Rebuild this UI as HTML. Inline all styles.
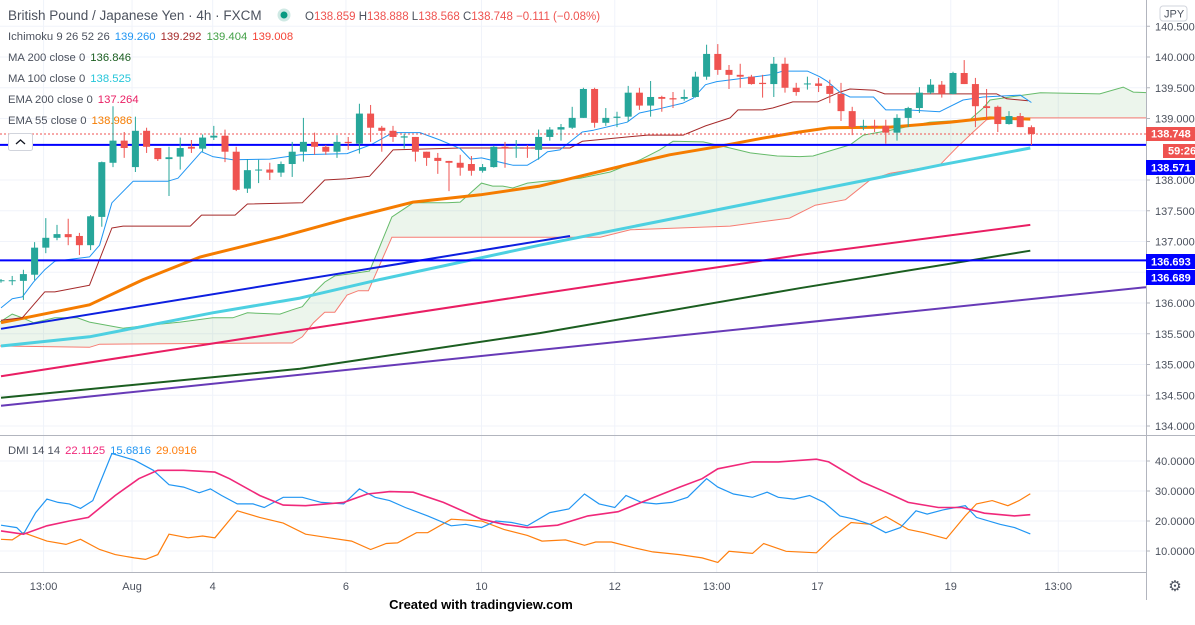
<!DOCTYPE html>
<html><head><meta charset="utf-8"><style>
html,body{margin:0;padding:0;background:#fff;width:1195px;height:625px;overflow:hidden}
svg{display:block;font-family:"Liberation Sans",Arial,sans-serif}
</style></head><body>
<svg id="chart" width="1195" height="625" viewBox="0 0 1195 625" xmlns="http://www.w3.org/2000/svg">
<defs>
<clipPath id="mainClip"><rect x="0" y="0" width="1146" height="434"/></clipPath>
<clipPath id="dmiClip"><rect x="0" y="436" width="1146" height="136"/></clipPath>
</defs>
<g id="grid"></g>
<g id="cloud" clip-path="url(#mainClip)"></g>
<g id="lines" clip-path="url(#mainClip)"></g>
<g id="candles" clip-path="url(#mainClip)"></g>
<g id="dmi" clip-path="url(#dmiClip)"></g>
<g id="axes"></g>
</svg>
<script>
// ---- candle data ----
const opens=[136.36,136.36,136.36,136.46,136.90,137.06,137.12,137.09,136.94,137.40,138.28,138.64,138.21,138.80,138.52,138.34,138.38,138.54,138.51,138.69,138.72,138.46,137.86,138.16,138.17,138.12,138.26,138.46,138.62,138.54,138.46,138.62,138.59,139.08,138.85,138.80,138.69,138.70,138.46,138.36,138.31,138.28,138.26,138.15,138.21,138.54,138.52,138.53,138.49,138.70,138.82,138.85,139.01,139.48,138.93,139.01,139.03,139.42,139.21,139.35,139.33,139.32,139.35,139.68,140.05,139.79,139.71,139.68,139.58,139.56,139.89,139.50,139.56,139.57,139.53,139.40,139.12,138.86,138.88,138.88,138.77,139.01,139.17,139.42,139.55,139.40,139.74,139.56,139.20,139.19,138.91,139.04,138.859];
const highs=[136.39,136.44,136.54,136.99,137.38,137.27,137.37,137.14,137.43,138.30,139.20,138.78,139.03,138.85,138.52,138.54,138.69,138.65,138.74,138.88,138.82,138.54,138.34,138.33,138.28,138.30,138.62,139.01,138.77,138.57,138.73,138.70,139.24,139.22,138.88,138.88,138.75,138.70,138.46,138.44,138.31,138.41,138.39,138.26,138.56,138.62,138.65,138.57,138.82,138.86,138.91,139.19,139.50,139.50,139.17,139.11,139.53,139.50,139.61,139.37,139.43,139.47,139.76,140.20,140.21,139.87,139.89,139.71,139.71,140.00,139.99,139.58,139.68,139.66,139.63,139.58,139.19,138.98,138.98,138.98,139.07,139.19,139.51,139.64,139.61,139.76,139.95,139.66,139.48,139.21,139.12,139.09,138.888];
const lows=[136.33,136.29,136.05,136.37,136.81,137.02,136.94,136.78,136.86,137.24,138.21,138.36,138.13,138.44,138.31,137.74,138.17,138.44,138.46,138.65,138.29,137.82,137.79,137.95,138.00,138.05,138.05,138.30,138.41,138.41,138.36,138.49,138.43,138.62,138.46,138.62,138.51,138.30,138.23,138.10,137.82,138.07,138.07,138.12,138.20,138.20,138.36,138.36,138.33,138.64,138.64,138.83,139.01,138.85,138.88,138.86,138.95,139.14,139.03,139.11,139.17,139.29,139.34,139.63,139.71,139.48,139.50,139.55,139.34,139.35,139.42,139.37,139.47,139.43,139.25,138.96,138.73,138.81,138.78,138.59,138.64,138.86,139.09,139.40,139.34,139.39,139.56,138.86,138.98,138.78,138.90,138.86,138.568];
const closes=[136.37,136.37,136.47,136.90,137.06,137.12,137.07,136.94,137.41,138.29,138.64,138.52,138.80,138.54,138.34,138.37,138.52,138.51,138.69,138.72,138.46,137.84,138.16,138.17,138.12,138.26,138.46,138.62,138.54,138.46,138.62,138.60,139.08,138.85,138.80,138.70,138.71,138.46,138.36,138.31,138.28,138.20,138.15,138.21,138.54,138.51,138.53,138.51,138.70,138.82,138.86,139.01,139.48,138.93,139.01,139.03,139.42,139.21,139.35,139.32,139.31,139.35,139.68,140.05,139.79,139.71,139.68,139.56,139.56,139.89,139.50,139.43,139.57,139.53,139.40,139.12,138.86,138.88,138.86,138.77,139.01,139.17,139.42,139.55,139.40,139.74,139.56,139.20,139.17,138.91,139.04,138.86,138.748];
// ---- indicator lines [barIndex, price] ----
const tenkanPts=[[0,135.92],[1,136.07],[1.9,136.10],[2.9,136.34],[3.9,136.54],[4.8,136.68],[7.9,136.75],[8.8,136.94],[9.9,137.63],[11.8,137.98],[14.9,137.98],[15.8,138.03],[17.9,138.46],[18.9,138.38],[20.7,138.33],[24,138.34],[26.7,138.41],[30.9,138.43],[33,138.57],[35,138.77],[37.4,138.77],[39.2,138.65],[41,138.51],[41.9,138.34],[42.9,138.36],[45.7,138.24],[47,138.24],[48.1,138.36],[48.8,138.46],[49.9,138.49],[51.9,138.78],[52.9,138.81],[55.9,138.94],[57,139.09],[58.8,139.16],[60.9,139.25],[61.8,139.33],[62.9,139.55],[63.9,139.60],[68.7,139.71],[69.8,139.77],[72,139.77],[73.1,139.68],[73.8,139.60],[74.9,139.43],[75.8,139.35],[77.9,139.35],[79,139.14],[80.9,139.14],[83.8,139.11],[85.9,139.30],[87.7,139.35],[91,139.38],[92,139.26]];
const kijunPts=[[0,135.72],[1.9,135.76],[3.9,136.18],[4.8,136.18],[7.9,136.29],[9.9,137.22],[10.9,137.25],[16.9,137.25],[17.9,137.43],[20.9,137.43],[22,137.61],[26.9,137.63],[28.9,138.00],[30.9,138.02],[32.9,138.06],[33.8,138.24],[35,138.49],[41,138.52],[50.8,138.52],[51.9,138.63],[57.7,138.73],[60.9,138.73],[62.9,138.88],[65.1,139.01],[65.8,139.14],[68,139.14],[68.9,139.17],[70.7,139.27],[72.9,139.27],[74.9,139.43],[75.8,139.48],[78,139.46],[78.9,139.40],[88.9,139.40],[89.8,139.32],[91.7,139.29]];
const spanAPts=[[-0.2,135.68],[1,135.82],[1.9,135.76],[2.9,135.68],[4.8,135.76],[6.8,135.76],[7.9,135.69],[10.9,135.59],[13.3,135.64],[16,135.69],[18.9,135.76],[20.7,135.76],[22,135.84],[24.9,135.82],[26,135.89],[26.9,135.94],[27.9,136.16],[28.9,136.34],[29.8,136.44],[31.8,136.49],[32.9,136.52],[33.8,136.91],[34.9,137.40],[36.8,137.63],[39.8,137.63],[41,137.64],[42.9,137.95],[43.9,137.90],[44.8,137.90],[45.7,137.87],[47,137.95],[48.1,137.97],[51.7,138.03],[54.4,138.13],[57.1,138.33],[58.8,138.49],[60,138.63],[62.7,138.62],[65.1,138.52],[66.9,138.44],[69.3,138.39],[71.3,138.38],[72.5,138.39],[74.3,138.49],[75.8,138.57],[77,138.73],[79.4,138.81],[82.9,138.94],[86.5,138.98],[87.7,139.17],[88.3,139.30],[90.1,139.35],[92.8,139.42],[98.1,139.40],[100.2,139.51],[101.1,139.43],[102.4,139.42]];
const spanBPts=[[-0.2,135.30],[7.9,135.28],[8.8,135.33],[24.9,135.35],[26,135.35],[26.9,135.45],[27.9,135.68],[28.9,135.85],[29.8,135.85],[30.9,136.13],[31.9,136.20],[32.8,136.20],[34.9,137.07],[53.5,137.07],[56.2,137.19],[65.1,137.25],[70.4,137.38],[72.7,137.59],[75.4,137.68],[77.6,138.00],[79.4,138.11],[83.8,138.24],[85.4,138.54],[86.8,138.78],[88,138.98],[89.2,139.01],[102.4,139.01]];
const ema55Pts=[[0,135.68],[7.9,135.97],[12.7,136.38],[17.8,136.75],[24.9,137.07],[30.9,137.37],[36.8,137.64],[42.8,137.76],[48.1,137.90],[56.2,138.26],[59.7,138.41],[63.9,138.54],[68,138.68],[71.3,138.78],[74,138.85],[79.4,138.86],[84.7,138.94],[88.3,139.01],[91.9,138.99]];
const ma100Pts=[[0,135.30],[7.9,135.45],[18.9,135.84],[26.7,136.08],[33.8,136.38],[48.1,136.94],[77.3,138.00],[83.8,138.24],[91.9,138.52]];
const ema200Pts=[[0,134.81],[24.9,135.51],[48.1,136.15],[71.3,136.78],[91.9,137.27]];
const ma200Pts=[[0,134.46],[26.7,134.93],[31.8,135.07],[48.1,135.51],[71.3,136.24],[91.9,136.85]];
const purpleTrend=[[0,134.33],[102.4,136.26]];
const blueTrend=[[0,135.58],[50.8,137.09]];
const hLevels=[138.571,136.693];
const lastPrice=138.748;
// ---- DMI [barIndex, value] ----
const plusDI=[[0,18.6],[1.4,17.8],[2,15.6],[3.1,22.8],[4.1,27.3],[5.1,26.2],[6.1,25.7],[7.1,24.2],[8.2,26.8],[9.9,42.5],[10.9,41.4],[11.9,40.3],[13.6,36.9],[15,32.1],[16.3,31.3],[17.7,29.4],[18.7,30.7],[19.7,28.5],[21.1,25.7],[22.5,25.7],[23.5,24.5],[25.2,27.9],[26.9,27.9],[28.6,26.2],[30.6,25.7],[32,30.7],[33.4,27.9],[34.7,26.8],[36.1,24.5],[38.1,21.7],[40.2,18.4],[41.5,18.9],[42.9,17.8],[44.2,20],[45.6,19.5],[47,18.4],[49,22.8],[50.7,24],[52.1,29],[53.4,25.7],[54.8,24.5],[55.8,28.5],[57.2,26.2],[58.5,25.7],[59.9,26.2],[61.3,27.9],[63,34.1],[64,31.3],[65.4,29],[67.1,27.9],[68.4,29.6],[69.4,27.9],[70.8,27.3],[72.2,28.5],[73.5,26.2],[74.9,21.7],[76.2,20.6],[77.6,18.9],[79,16.1],[80.3,17.8],[81.7,23.4],[82.7,22.3],[84.1,23.7],[86.1,25.1],[87.1,21.2],[89.2,18.9],[90.5,17.8],[91.9,15.7]];
const adx=[[0,16.7],[2,15.6],[4.1,18.4],[6.1,20],[7.8,21.2],[10.2,28.5],[12.3,34.1],[14,36.9],[16.3,36.9],[19.1,36.3],[20.4,34.1],[23.1,28.5],[25.2,25.3],[27.2,25.1],[30.6,26.2],[32.7,29],[34.7,29.8],[36.8,29.6],[39.5,26.2],[42.9,20.6],[44.9,18.9],[47,17.8],[49.7,18.6],[52.4,21.7],[55.1,23.1],[57.9,27.3],[60.6,31.3],[62.6,34.1],[64,37.4],[67.1,39.7],[69.4,39.7],[72.8,40.6],[73.9,39.7],[76.9,33],[79,29.6],[81,26.2],[83.7,24.5],[85.8,24.5],[87.8,22.6],[90.5,21.7],[91.9,22.1]];
const minusDI=[[0,13.9],[1,13.7],[2,16.1],[4.1,13.3],[5.8,12.2],[7.1,13.9],[8.8,10.5],[10.2,8.8],[11.9,7.7],[12.9,7.2],[14,8.8],[15,15.6],[16.7,14.4],[18,15],[19.1,14.4],[21.1,23.4],[23.1,21.2],[25.2,19.3],[27.2,15.6],[29.3,14.4],[31.3,13.3],[33,10.5],[34.4,12.5],[35.4,12.7],[37.1,16.1],[38.1,16.1],[40.2,20.6],[42.9,20],[44.9,17.2],[47,15.2],[48.3,13.3],[50.4,13.7],[52.1,11.9],[53.1,13],[54.5,13],[56.5,11.1],[58.2,9.7],[60.6,8.8],[62.6,7.7],[64,6.2],[65,9.9],[67.1,9.2],[68.1,12.5],[70.1,9.9],[72.8,9.4],[74.2,14.4],[75.9,19.5],[77.6,18.9],[79,21.5],[81,17.2],[82.4,16.1],[84.4,14.1],[86.1,21.7],[87.1,25.7],[88.5,26.8],[89.9,25.1],[90.9,26.8],[91.9,29.1]];
// ---- axis labels ----
const priceTicks=[140.5,140.0,139.5,139.0,138.0,137.5,137.0,136.0,135.5,135.0,134.5,134.0];
const dmiTicks=[40,30,20,10];
const timeLabels=["13:00","Aug","4","6","10","12","13:00","17","19","13:00"];
const timeIdx=[3.8,11.7,18.9,30.8,42.9,54.8,63.9,72.9,84.8,94.4];

const NS="http://www.w3.org/2000/svg";
const xI=i=>1+i*11.2;
const yP=p=>57+(140-p)*61.5;
const yD=v=>581-3*v;
function mk(tag,attrs,parent,text){const e=document.createElementNS(NS,tag);for(const k in attrs)e.setAttribute(k,attrs[k]);if(text!==undefined)e.textContent=text;parent.appendChild(e);return e;}
const G=id=>document.getElementById(id);

// grid
const grid=G('grid');
priceTicks.concat([136.5]).forEach(p=>{const l=mk('line',{x1:0,x2:1146,y1:yP(p),y2:yP(p),stroke:'#f0f3fa','stroke-width':1},grid);});
dmiTicks.forEach(v=>{const l=mk('line',{x1:0,x2:1146,y1:yD(v),y2:yD(v),stroke:'#f0f3fa'},grid);});
timeIdx.forEach(i=>{const l=mk('line',{x1:xI(i),x2:xI(i),y1:0,y2:572,stroke:'#f0f3fa'},grid);});

function path(pts,fx,fy){return pts.map((q,k)=>(k?'L':'M')+fx(q[0]).toFixed(1)+','+fy(q[1]).toFixed(1)).join('');}
// cloud
const cloud=G('cloud');
const poly=spanAPts.map(q=>xI(q[0])+','+yP(q[1])).concat(spanBPts.slice().reverse().map(q=>xI(q[0])+','+yP(q[1]))).join(' ');
const cf=mk('polygon',{points:poly,fill:'rgba(67,160,71,0.10)'},cloud);

const sa=mk('path',{d:path(spanAPts,xI,yP),fill:'none',stroke:'#66bb6a','stroke-width':1},cloud);

const sb=mk('path',{d:path(spanBPts,xI,yP),fill:'none',stroke:'#f77c72','stroke-width':1},cloud);


// lines
const lines=G('lines');
function addLine(pts,color,w,name){const e=mk('path',{d:path(pts,xI,yP),fill:'none',stroke:color,'stroke-width':w,'stroke-linejoin':'round'},lines);}
addLine(purpleTrend,'#673ab7',2,'purple-trendline');
addLine(ma200Pts,'#1b5e20',2,'ma200-line');
addLine(ema200Pts,'#e91e63',2,'ema200-line');
addLine(blueTrend,'#0d1fe0',2,'blue-trendline');
addLine(ma100Pts,'#4dd0e1',3,'ma100-line');
addLine(ema55Pts,'#f57c00',3,'ema55-line');
addLine(kijunPts,'#a52a2a',1,'kijun-line');
addLine(tenkanPts,'#2196f3',1,'tenkan-line');
hLevels.forEach(p=>{const e=mk('line',{x1:0,x2:1146,y1:yP(p),y2:yP(p),stroke:'#0000ff','stroke-width':2},lines);});
const lp=mk('line',{x1:0,x2:1146,y1:yP(lastPrice),y2:yP(lastPrice),stroke:'#ef5350','stroke-width':1,'stroke-dasharray':'2,2'},lines);


// candles
const cg=G('candles');
opens.forEach((o,i)=>{const c=closes[i],up=c>=o,col=up?'#26a69a':'#ef5350',x=xI(i);
 const g=mk('g',{},cg);
 mk('line',{x1:x,x2:x,y1:yP(highs[i]),y2:yP(lows[i]),stroke:col,'stroke-width':1},g);
 const t=yP(Math.max(o,c)),b=yP(Math.min(o,c));
 mk('rect',{x:x-3.5,y:t,width:7,height:Math.max(1,b-t),fill:col},g);});

// DMI
const dg=G('dmi');
function dl(pts,color,w,name){const e=mk('path',{d:path(pts,xI,yD),fill:'none',stroke:color,'stroke-width':w},dg);}
dl(minusDI,'#ff7f0e',1.2,'dmi-minus-di');
dl(plusDI,'#2196f3',1.2,'dmi-plus-di');
dl(adx,'#f0287a',1.6,'dmi-adx');

// axes & text
const ax=G('axes');
const T=(x,y,s,o,name,inter)=>{const e=mk('text',Object.assign({x:x,y:y},o),ax,s);return e;};
mk('line',{x1:1146.5,x2:1146.5,y1:0,y2:600,stroke:'#b2b5be'},ax);
mk('line',{x1:0,x2:1195,y1:435.5,y2:435.5,stroke:'#b2b5be'},ax);
mk('line',{x1:0,x2:1146,y1:572.5,y2:572.5,stroke:'#b2b5be'},ax);
priceTicks.forEach(p=>{mk('line',{x1:1146,x2:1150,y1:yP(p),y2:yP(p),stroke:'#b2b5be'},ax);T(1155,yP(p)+4,p.toFixed(3),{'font-size':11,fill:'#4c525e'},'price-tick-label');});
dmiTicks.forEach(v=>{mk('line',{x1:1146,x2:1150,y1:yD(v),y2:yD(v),stroke:'#b2b5be'},ax);T(1155,yD(v)+4,v.toFixed(4),{'font-size':11,fill:'#4c525e'},'dmi-tick-label');});
timeLabels.forEach((s,k)=>T(xI(timeIdx[k]),590,s,{'font-size':11,fill:'#4c525e','text-anchor':'middle'},'time-tick-label'));
function badge(y,h,x,bg,txt,name){const r=mk('rect',{x:x,y:y,width:1195-x,height:h,fill:bg},ax);T(x+5,y+h-3.5,txt,{'font-size':11,fill:'#fff','font-weight':'bold'},name+'-text');}
badge(127,14,1146,'#ef5350','138.748','last-price-badge');
badge(144,14,1163,'#ef5350','59:26','countdown-badge');
badge(160,15,1146,'#0000ff','138.571','level-badge-1');
badge(254,15,1146,'#0000ff','136.693','level-badge-2');
badge(270,15,1146,'#0000ff','136.689','level-badge-3');
const jb=mk('rect',{x:1160,y:6,width:27,height:15,rx:3,fill:'#fff',stroke:'#d1d4dc'},ax);
T(1164,17.5,'JPY',{'font-size':11,fill:'#4c525e'},'currency-label');
T(8,20,'British Pound / Japanese Yen · 4h · FXCM',{'font-size':13.5,fill:'#4c525e'},'chart-title');
const dot=mk('circle',{cx:284,cy:15,r:5,fill:'#089981',stroke:'#cfe9e4','stroke-width':3},ax);
const oh=T(305,20,'',{'font-size':11.5,fill:'#4c525e'},'ohlc-values');
[['O','138.859'],[' H','138.888'],[' L','138.568'],[' C','138.748'],[' ','−0.111 (−0.08%)']].forEach(q=>{mk('tspan',{},oh,q[0]);mk('tspan',{fill:'#ef5350'},oh,q[1]);});
function legend(y,label,vals,name){const t=T(8,y,'',{'font-size':11.3,fill:'#4c525e'},name);mk('tspan',{},t,label);vals.forEach(v=>mk('tspan',{fill:v[1],dx:5},t,v[0]));}
legend(40,'Ichimoku 9 26 52 26',[['139.260','#2196f3'],['139.292','#a52a2a'],['139.404','#43a047'],['139.008','#f44336']],'ichimoku-legend');
legend(61,'MA 200 close 0',[['136.846','#1b5e20']],'ma200-legend');
legend(82,'MA 100 close 0',[['138.525','#26c6da']],'ma100-legend');
legend(103,'EMA 200 close 0',[['137.264','#e91e63']],'ema200-legend');
legend(124,'EMA 55 close 0',[['138.986','#f57c00']],'ema55-legend');
const cb=mk('rect',{x:8.5,y:133.5,width:24,height:17,rx:2,fill:'#fff',stroke:'#d1d4dc'},ax);
mk('path',{d:'M16,144 L20.5,140 L25,144',fill:'none',stroke:'#131722','stroke-width':1.3},ax);
legend(454,'DMI 14 14',[['22.1125','#f0287a'],['15.6816','#2196f3'],['29.0916','#ff7f0e']],'dmi-legend');
T(1175,591,'⚙',{'font-size':15,fill:'#4c525e','text-anchor':'middle'},'settings-icon',true);
T(481,609,'Created with tradingview.com',{'font-size':13,'font-weight':'bold',fill:'#000','text-anchor':'middle'},'watermark');
</script>
</body></html>
